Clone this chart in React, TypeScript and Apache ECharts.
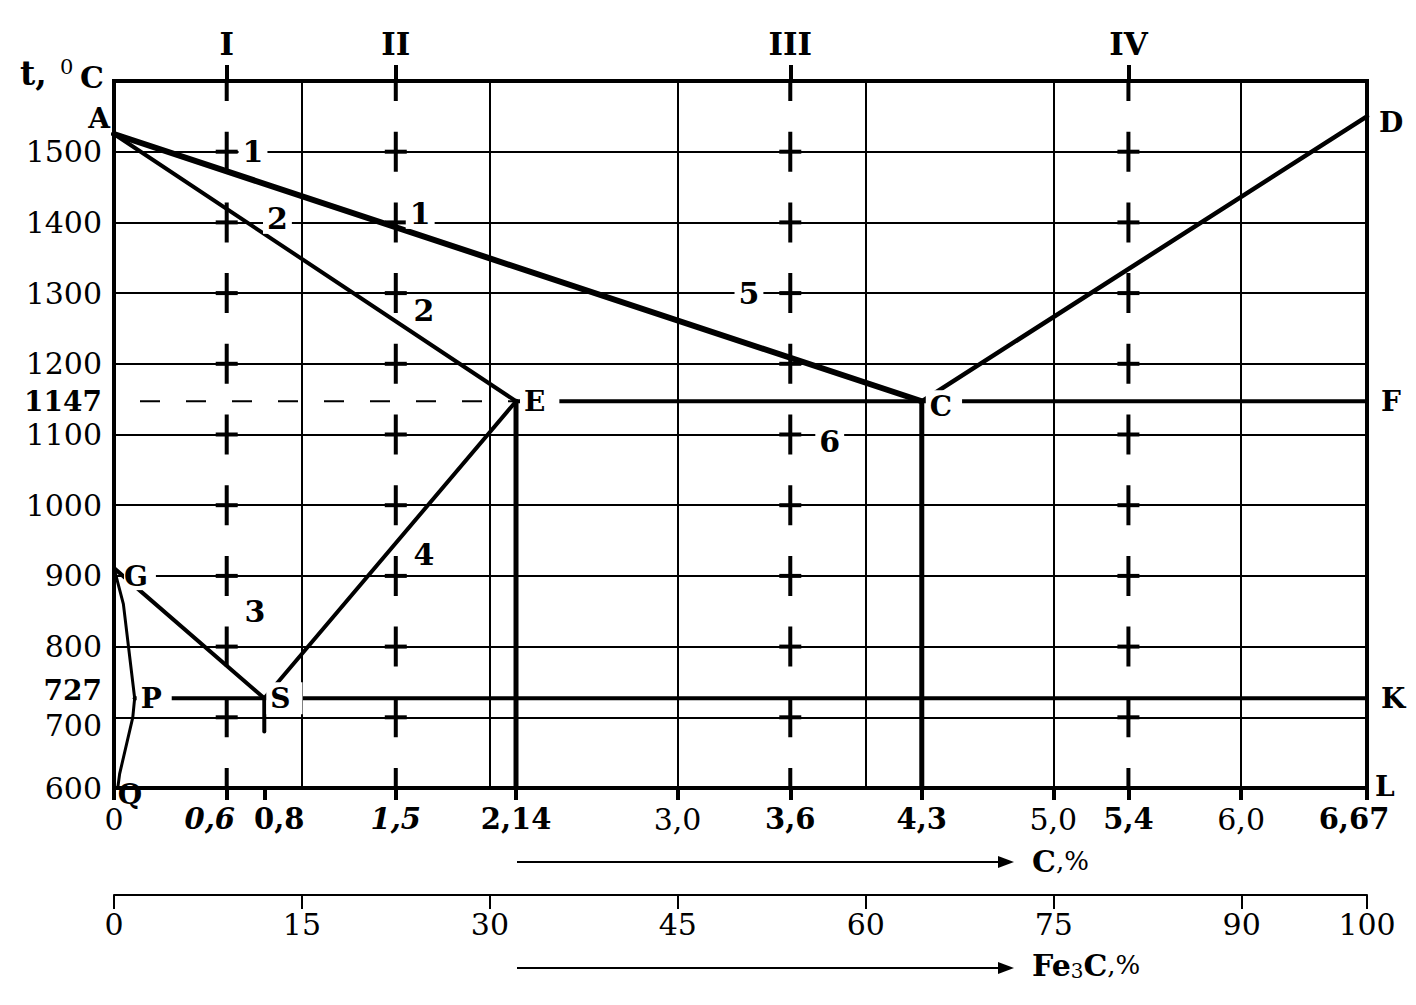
import React, { useEffect, useRef } from "react";
import * as echarts from "echarts";

// Carbon content axis, % C
const carbonTicks = [0, 0.6, 0.8, 1.5, 2.14, 3.0, 3.6, 4.3, 5.0, 5.4, 6.0, 6.67];
const carbonTickText = ["0", "0,6", "0,8", "1,5", "2,14", "3,0", "3,6", "4,3", "5,0", "5,4", "6,0", "6,67"];
const carbonItalic = [0.6, 1.5];
const carbonBold = [0.6, 0.8, 1.5, 2.14, 3.6, 4.3, 5.4, 6.67];

// Temperature axis, °C
const tempTicks = [600, 700, 727, 800, 900, 1000, 1100, 1147, 1200, 1300, 1400, 1500];
const tempBold = [727, 1147];

// Cementite content axis, % Fe3C
const cementiteTicks = [0, 15, 30, 45, 60, 75, 90, 100];

// Alloys I–IV
const alloyCarbon = [0.6, 1.5, 3.6, 5.4];
const alloyNames = ["I", "II", "III", "IV"];
const alloyCrossTemps = [700, 800, 900, 1000, 1100, 1200, 1300, 1400, 1500];

// Critical points [C %, t °C]
const pointNames = ["A", "D", "E", "C", "F", "G", "P", "S", "K", "Q", "L"];
const pointValues = [
  [0, 1525],
  [6.67, 1550],
  [2.14, 1147],
  [4.3, 1147],
  [6.67, 1147],
  [0, 911],
  [0.11, 727],
  [0.8, 727],
  [6.67, 727],
  [0.02, 600],
  [6.67, 600],
];
const pt = (n: string) => pointValues[pointNames.indexOf(n)];

// Phase boundaries
const liquidusAC = [pt("A"), pt("C")];
const liquidusCD = [pt("C"), pt("D")];
const solidusAE = [pt("A"), pt("E")];
const lineES = [pt("E"), pt("S")];
const lineGS = [pt("G"), pt("S")];
const lineGPQ = [pt("G"), [0.05, 860], pt("P"), [0.1, 700], [0.03, 620], pt("Q")];
const eutecticECF = [pt("E"), pt("F")];
const eutectoidPSK = [pt("P"), pt("K")];
const verticalE = [pt("E"), [2.14, 600]];
const verticalC = [pt("C"), [4.3, 600]];
const stubS = [pt("S"), [0.8, 680]];
const eutecticLevelLeft = [[0, 1147], pt("E")];

// Region numbers
const regionText = ["1", "2", "1", "2", "3", "4", "5", "6"];
const regionAt = [
  [0.74, 1500],
  [0.87, 1405],
  [1.63, 1412],
  [1.65, 1275],
  [0.75, 850],
  [1.65, 930],
  [3.38, 1300],
  [3.81, 1090],
];

const SERIF = "'DejaVu Serif', 'Liberation Serif', serif";
const BLACK = "#000";

const near = (a: number, b: number) => Math.abs(a - b) < 1e-6;

function buildOption(): any {
  const line = (data: number[][], width: number, extra: any = {}) => ({
    type: "line",
    data,
    symbol: "none",
    silent: true,
    z: 3,
    lineStyle: { color: BLACK, width, cap: "round", opacity: 1, ...(extra.lineStyle || {}) },
  });

  const labelStyles: Record<string, any> = {
    A: { position: "left", distance: 4, offset: [0, -16] },
    D: { position: "right", distance: 12, offset: [0, 6] },
    E: { position: "right", distance: 4, padding: [2, 14, 2, 4], backgroundColor: "#fff" },
    C: { position: "right", distance: 4, offset: [0, 5], padding: [2, 10, 2, 4], backgroundColor: "#fff" },
    F: { position: "right", distance: 14 },
    G: { position: "right", distance: 10, offset: [0, 8], padding: [0, 8, 0, 0], backgroundColor: "#fff" },
    P: { position: "right", distance: 2, padding: [2, 10, 2, 4], backgroundColor: "#fff" },
    S: { position: "right", distance: 2, padding: [2, 12, 2, 4], backgroundColor: "#fff" },
    K: { position: "right", distance: 14 },
    Q: { position: "right", distance: 0, offset: [0, 6] },
    L: { position: "right", distance: 8, offset: [0, -2] },
  };

  const crossData: number[][] = [];
  alloyCarbon.forEach((c) => alloyCrossTemps.forEach((t) => crossData.push([c, t])));

  const alloySeries = alloyCarbon.map((c) =>
    line(
      [
        [c, 600],
        [c, 1600],
      ],
      4,
      { lineStyle: { type: [40, 30.7], dashOffset: 20, cap: "butt" } }
    )
  );

  const carbonRich: any = {
    r: { fontFamily: SERIF, fontSize: 30, color: BLACK },
    b: { fontFamily: SERIF, fontSize: 29, fontWeight: "bold", color: BLACK },
    bi: { fontFamily: SERIF, fontSize: 29, fontWeight: "bold", fontStyle: "italic", color: BLACK },
    biL: { fontFamily: SERIF, fontSize: 29, fontWeight: "bold", fontStyle: "italic", color: BLACK, padding: [0, 34, 0, 0] },
    bR: { fontFamily: SERIF, fontSize: 29, fontWeight: "bold", color: BLACK, padding: [0, 0, 0, 30] },
    bL: { fontFamily: SERIF, fontSize: 29, fontWeight: "bold", color: BLACK, padding: [0, 26, 0, 0] },
  };

  const tempRich: any = {
    r: { fontFamily: SERIF, fontSize: 30, color: BLACK },
    rLow: { fontFamily: SERIF, fontSize: 30, color: BLACK, padding: [16, 0, 0, 0] },
    b: { fontFamily: SERIF, fontSize: 28, fontWeight: "bold", color: BLACK },
    bHigh: { fontFamily: SERIF, fontSize: 28, fontWeight: "bold", color: BLACK, padding: [0, 0, 16, 0] },
  };

  return {
    animation: false,
    backgroundColor: "#fff",
    grid: {
      left: 114,
      right: 49,
      top: 81,
      bottom: 217,
      show: true,
      borderColor: BLACK,
      borderWidth: 4,
      backgroundColor: "transparent",
    },
    xAxis: [
      {
        type: "value",
        min: 0,
        max: 6.67,
        interval: 1,
        axisLine: { show: false, onZero: false },
        axisTick: { show: false },
        axisLabel: { show: false },
        splitLine: { show: true, lineStyle: { color: BLACK, width: 2 } },
      },
      {
        type: "value",
        position: "bottom",
        min: 0,
        max: 6.67,
        axisLine: { show: false, onZero: false },
        axisTick: {
          show: true,
          customValues: carbonTicks,
          length: 12,
          lineStyle: { color: BLACK, width: 4 },
        },
        axisLabel: {
          customValues: carbonTicks,
          margin: 16,
          showMinLabel: true,
          showMaxLabel: true,
          formatter: (v: number) => {
            const i = carbonTicks.findIndex((t) => near(t, v));
            const text = i >= 0 ? carbonTickText[i] : String(v);
            let key = "r";
            if (carbonItalic.some((t) => near(t, v))) key = "bi";
            else if (carbonBold.some((t) => near(t, v))) key = "b";
            if (near(v, 0.6)) key = "biL";
            if (near(v, 0.8)) key = "bR";
            if (near(v, 6.67)) key = "bL";
            return `{${key}|${text}}`;
          },
          rich: carbonRich,
        },
        splitLine: { show: false },
      },
      {
        type: "value",
        position: "top",
        min: 0,
        max: 6.67,
        axisLine: { show: false, onZero: false },
        axisTick: {
          show: true,
          customValues: alloyCarbon,
          length: 16,
          lineStyle: { color: BLACK, width: 4 },
        },
        axisLabel: {
          customValues: alloyCarbon,
          margin: 22,
          fontFamily: SERIF,
          fontWeight: "bold",
          fontSize: 31,
          color: BLACK,
          formatter: (v: number) => {
            const i = alloyCarbon.findIndex((t) => near(t, v));
            return i >= 0 ? alloyNames[i] : "";
          },
        },
        splitLine: { show: false },
      },
      {
        type: "value",
        position: "bottom",
        offset: 107,
        min: 0,
        max: 100,
        axisLine: { show: true, onZero: false, lineStyle: { color: BLACK, width: 2 } },
        axisTick: {
          show: true,
          customValues: cementiteTicks,
          length: 14,
          lineStyle: { color: BLACK, width: 2 },
        },
        axisLabel: {
          customValues: cementiteTicks,
          margin: 14,
          showMinLabel: true,
          showMaxLabel: true,
          fontFamily: SERIF,
          fontSize: 30,
          color: BLACK,
        },
        splitLine: { show: false },
      },
    ],
    yAxis: [
      {
        type: "value",
        min: 600,
        max: 1600,
        interval: 100,
        axisLine: { show: false, onZero: false },
        axisTick: { show: false },
        axisLabel: { show: false },
        splitLine: { show: true, lineStyle: { color: BLACK, width: 2 } },
      },
      {
        type: "value",
        position: "left",
        min: 600,
        max: 1600,
        axisLine: { show: false, onZero: false },
        axisTick: { show: false },
        axisLabel: {
          customValues: tempTicks,
          margin: 12,
          showMinLabel: true,
          formatter: (v: number) => {
            let key = tempBold.some((t) => near(t, v)) ? "b" : "r";
            if (near(v, 727)) key = "bHigh";
            if (near(v, 700)) key = "rLow";
            return `{${key}|${Math.round(v)}}`;
          },
          rich: tempRich,
        },
        splitLine: { show: false },
      },
    ],
    series: [
      line(eutecticLevelLeft, 2, { lineStyle: { type: [20, 26], dashOffset: 20, cap: "butt" } }),
      ...alloySeries,
      {
        type: "scatter",
        data: crossData,
        symbol: "rect",
        symbolSize: [22, 4],
        itemStyle: { color: BLACK, opacity: 1 },
        silent: true,
        z: 4,
      },
      line(liquidusAC, 6),
      line(liquidusCD, 4.5),
      line(solidusAE, 4),
      line(lineES, 4),
      line(lineGS, 4),
      line(lineGPQ, 3),
      line(eutecticECF, 4),
      line(eutectoidPSK, 4),
      line(verticalE, 5),
      line(verticalC, 5),
      line(stubS, 4),
      {
        type: "scatter",
        symbol: "circle",
        symbolSize: 0,
        silent: true,
        z: 8,
        itemStyle: { opacity: 1 },
        data: regionAt.map((p, i) => ({ value: p, name: regionText[i] })),
        label: {
          show: true,
          position: "inside",
          formatter: (p: any) => p.name,
          fontFamily: SERIF,
          fontWeight: "bold",
          fontSize: 30,
          color: BLACK,
          opacity: 1,
          backgroundColor: "#fff",
          padding: [0, 4, 0, 4],
        },
      },
      {
        type: "scatter",
        symbol: "circle",
        symbolSize: 0,
        silent: true,
        z: 9,
        itemStyle: { opacity: 1 },
        data: pointValues.map((p, i) => ({
          value: p,
          name: pointNames[i],
          label: labelStyles[pointNames[i]],
        })),
        label: {
          show: true,
          formatter: (p: any) => p.name,
          fontFamily: SERIF,
          fontWeight: "bold",
          fontSize: 28,
          color: BLACK,
          opacity: 1,
        },
      },
    ],
    graphic: [
      { type: "text", left: 20, top: 57, style: { text: "t,", font: `bold 33px ${SERIF}`, fill: BLACK } },
      { type: "text", left: 60, top: 56, style: { text: "0", font: `21px ${SERIF}`, fill: BLACK } },
      { type: "text", left: 80, top: 62, style: { text: "C", font: `bold 30px ${SERIF}`, fill: BLACK } },
      // C, % arrow
      { type: "line", shape: { x1: 517, y1: 862, x2: 1004, y2: 862 }, style: { stroke: BLACK, lineWidth: 2 } },
      { type: "polygon", shape: { points: [[998, 856], [1014, 862], [998, 868]] }, style: { fill: BLACK } },
      {
        type: "text",
        left: 1032,
        top: 846,
        style: {
          text: "{b|C}{r|,%}",
          rich: {
            b: { font: `bold 30px ${SERIF}`, fill: BLACK },
            r: { font: `26px ${SERIF}`, fill: BLACK },
          },
        },
      },
      // Fe3C, % arrow
      { type: "line", shape: { x1: 517, y1: 968, x2: 1004, y2: 968 }, style: { stroke: BLACK, lineWidth: 2 } },
      { type: "polygon", shape: { points: [[998, 962], [1014, 968], [998, 974]] }, style: { fill: BLACK } },
      {
        type: "text",
        left: 1032,
        top: 950,
        style: {
          text: "{b|Fe}{s|3}{b|C}{r|,%}",
          rich: {
            b: { font: `bold 30px ${SERIF}`, fill: BLACK },
            s: { font: `20px ${SERIF}`, fill: BLACK, verticalAlign: "bottom", padding: [12, 0, 0, 0] },
            r: { font: `26px ${SERIF}`, fill: BLACK },
          },
        },
      },
    ],
  };
}

export default function App() {
  const ref = useRef<HTMLDivElement>(null);
  useEffect(() => {
    if (!ref.current) return;
    const chart = echarts.init(ref.current, null, { renderer: "svg" });
    chart.setOption(buildOption());
    return () => chart.dispose();
  }, []);
  return (
    <div
      ref={ref}
      style={{ position: "fixed", left: 0, top: 0, width: 1416, height: 1005, background: "#fff" }}
    />
  );
}
